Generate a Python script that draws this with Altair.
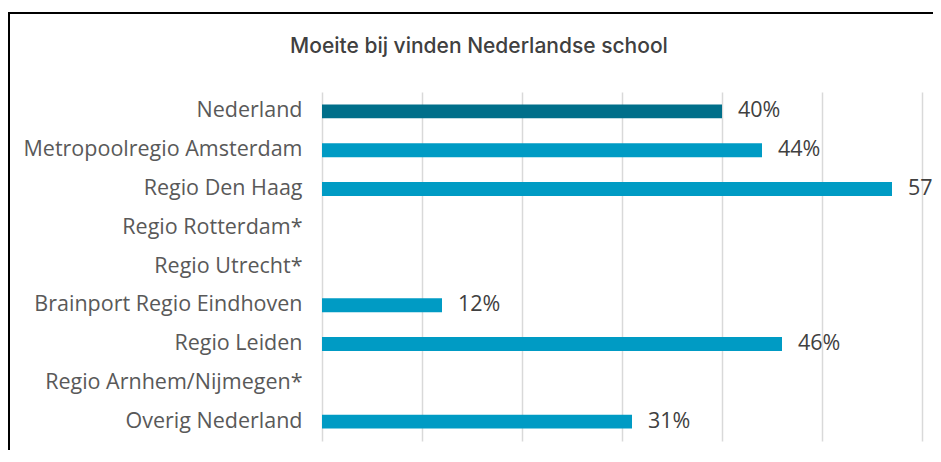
import altair as alt
import pandas as pd

TITLE = "Moeite bij vinden Nederlandse school"
categories = [
    "Nederland",
    "Metropoolregio Amsterdam",
    "Regio Den Haag",
    "Regio Rotterdam*",
    "Regio Utrecht*",
    "Brainport Regio Eindhoven",
    "Regio Leiden",
    "Regio Arnhem/Nijmegen*",
    "Overig Nederland",
]
values = [40, 44, 57, None, None, 12, 46, None, 31]
groups = ["nl", "r", "r", "r", "r", "r", "r", "r", "r"]
tick_values = [0, 10, 20, 30, 40, 50, 60]

df = pd.DataFrame({"cat": categories, "val": values, "grp": groups})
df["label"] = [f"{int(v)}%" if v is not None and v == v else "" for v in df["val"]]

W, H = 611, 349
xscale = alt.Scale(domain=[0, 61.1], nice=False, zero=True)
yscale = alt.Scale(domain=categories, paddingInner=0.64, paddingOuter=0.32)

base = alt.Chart(df)

bars = base.mark_bar().encode(
    x=alt.X("val:Q", scale=xscale,
            axis=alt.Axis(values=tick_values, labels=False, ticks=False, domain=False,
                          grid=True, gridColor="#d9d9d9", gridWidth=1.5, title=None)),
    y=alt.Y("cat:N", scale=yscale, sort=None,
            axis=alt.Axis(title=None, ticks=False, domain=False, labelPadding=20,
                          labelFont="Open Sans", labelFontSize=21.5, labelColor="#595959",
                          labelLimit=400)),
    color=alt.Color("grp:N", scale=alt.Scale(domain=["nl", "r"], range=["#006F8A", "#009BC4"]),
                    legend=None),
)

labels = base.mark_text(align="left", baseline="middle", dx=16, font="Open Sans",
                        fontSize=21.5, color="#404040").encode(
    x=alt.X("val:Q", scale=xscale),
    y=alt.Y("cat:N", scale=yscale, sort=None),
    text="label:N",
)

tdf = pd.DataFrame({"t": [TITLE]})
title = alt.Chart(tdf).mark_text(align="center", baseline="middle", font="Inter",
                                 fontSize=21, fontWeight=500, color="#404040").encode(
    text="t:N", x=alt.value(157), y=alt.value(-45))

frame = alt.Chart(tdf).mark_rect(filled=False, stroke="black", strokeWidth=2).encode(
    x=alt.value(-313), x2=alt.value(800), y=alt.value(-79), y2=alt.value(600))

chart = alt.layer(bars, labels, title, frame).properties(
    width=W, height=H,
    autosize=alt.AutoSizeParams(type="none"),
    padding={"left": 314, "top": 84, "right": 0, "bottom": 9},
).configure_view(stroke=None)

chart.save("out.html", embed_options={"renderer": "svg", "actions": False})
